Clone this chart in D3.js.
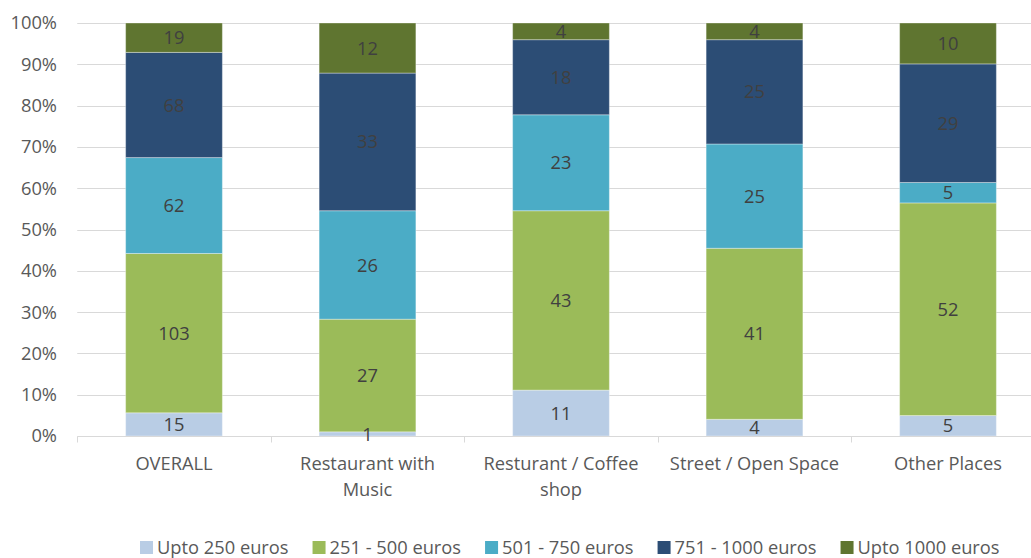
<!DOCTYPE html>
<html>
<head>
<meta charset="utf-8">
<script src="https://cdn.jsdelivr.net/npm/d3@7"></script>
<style>
  html, body { margin: 0; padding: 0; background: #fff; }
  svg { display: block; font-family: "Open Sans", sans-serif; }
</style>
</head>
<body>
<svg id="chart" width="1031" height="558"></svg>
<script>
// Venue categories (x axis)
const categories = ["OVERALL", "Restaurant with Music", "Resturant / Coffee shop", "Street / Open Space", "Other Places"];
// Wrapped category labels as drawn under the axis
const categoryLines = [["OVERALL"], ["Restaurant with", "Music"], ["Resturant / Coffee", "shop"], ["Street / Open Space"], ["Other Places"]];

// Spending bands (stack order, bottom to top)
const seriesNames = ["Upto 250 euros", "251 - 500 euros", "501 - 750 euros", "751 - 1000 euros", "Upto 1000 euros"];
const seriesColors = ["#B9CDE5", "#9BBB59", "#4BACC6", "#2C4D75", "#5F7530"];

// Respondent counts per band, one entry per category
const upto250  = [15, 1, 11, 4, 5];
const from251  = [103, 27, 43, 41, 52];
const from501  = [62, 26, 23, 25, 5];
const from751  = [68, 33, 18, 25, 29];
const over1000 = [19, 12, 4, 4, 10];

const yTicks = [0, 0.1, 0.2, 0.3, 0.4, 0.5, 0.6, 0.7, 0.8, 0.9, 1.0];

const seriesValues = [upto250, from251, from501, from751, over1000];
const rows = categories.map((c, i) => {
  const r = { category: c };
  seriesNames.forEach((s, k) => { r[s] = seriesValues[k][i]; });
  return r;
});

const svg = d3.select("#chart");
const plot = { left: 77.25, right: 1044.75, top: 23, bottom: 436 };
const fontSize = 18.3;

const x = d3.scaleBand().domain(categories).range([plot.left, plot.right]).paddingInner(0.5).paddingOuter(0.25);
const y = d3.scaleLinear().domain([0, 1]).range([plot.bottom, plot.top]);

const stacked = d3.stack().keys(seriesNames).offset(d3.stackOffsetExpand)(rows);

// Horizontal gridlines
svg.append("g")
  .selectAll("line")
  .data(yTicks.slice(1))
  .join("line")
  .attr("x1", plot.left).attr("x2", plot.right)
  .attr("y1", d => Math.round(y(d)) + 0.5).attr("y2", d => Math.round(y(d)) + 0.5)
  .attr("stroke", "#D9D9D9").attr("stroke-width", 1);

// Y axis labels
svg.append("g")
  .selectAll("text")
  .data(yTicks)
  .join("text")
  .attr("x", 57).attr("y", d => y(d))
  .attr("dy", "0.35em")
  .attr("text-anchor", "end")
  .attr("font-size", fontSize)
  .attr("fill", "#595959")
  .text(d => d3.format(".0%")(d));

// Stacked bars
const segments = stacked.flatMap((s, i) => s.map(p => ({ p, key: s.key, color: seriesColors[i] })));

svg.append("g")
  .selectAll("rect")
  .data(segments)
  .join("rect")
  .attr("x", d => x(d.p.data.category))
  .attr("width", x.bandwidth())
  .attr("y", d => y(d.p[1]))
  .attr("height", d => y(d.p[0]) - y(d.p[1]))
  .attr("fill", d => d.color)
  .attr("stroke", "#ffffff").attr("stroke-opacity", 0.35).attr("stroke-width", 1);

// Category axis line and boundary ticks
const axisY = Math.round(y(0)) + 0.5;
svg.append("line")
  .attr("x1", plot.left).attr("x2", plot.right)
  .attr("y1", axisY).attr("y2", axisY)
  .attr("stroke", "#D9D9D9").attr("stroke-width", 1);

const step = x.step();
svg.append("g")
  .selectAll("line")
  .data(d3.range(categories.length + 1))
  .join("line")
  .attr("x1", i => Math.round(plot.left + i * step) + 0.5)
  .attr("x2", i => Math.round(plot.left + i * step) + 0.5)
  .attr("y1", axisY).attr("y2", axisY + 6)
  .attr("stroke", "#D9D9D9").attr("stroke-width", 1);

// Value labels centred in each segment, drawn above all bars
svg.append("g")
  .selectAll("text")
  .data(segments)
  .join("text")
  .attr("x", d => x(d.p.data.category) + x.bandwidth() / 2)
  .attr("y", d => (y(d.p[0]) + y(d.p[1])) / 2)
  .attr("dy", "0.36em")
  .attr("text-anchor", "middle")
  .attr("font-size", fontSize)
  .attr("fill", "#404040")
  .text(d => d.p.data[d.key]);

// Category labels
const catG = svg.append("g");
categories.forEach((c, i) => {
  const t = catG.append("text")
    .attr("x", x(c) + x.bandwidth() / 2)
    .attr("y", 470)
    .attr("text-anchor", "middle")
    .attr("font-size", fontSize)
    .attr("fill", "#595959");
  categoryLines[i].forEach((line, j) => {
    t.append("tspan")
      .attr("x", x(c) + x.bandwidth() / 2)
      .attr("dy", j === 0 ? 0 : 26)
      .text(line);
  });
});

// Legend
const legend = svg.append("g");
let lx = 140;
seriesNames.forEach((s, i) => {
  legend.append("rect")
    .attr("x", lx).attr("y", 541)
    .attr("width", 13).attr("height", 13)
    .attr("fill", seriesColors[i]);
  const t = legend.append("text")
    .attr("x", lx + 17).attr("y", 554)
    .attr("font-size", fontSize)
    .attr("fill", "#595959")
    .text(s);
  lx += 17 + t.node().getComputedTextLength() + 24;
});
</script>
</body>
</html>
